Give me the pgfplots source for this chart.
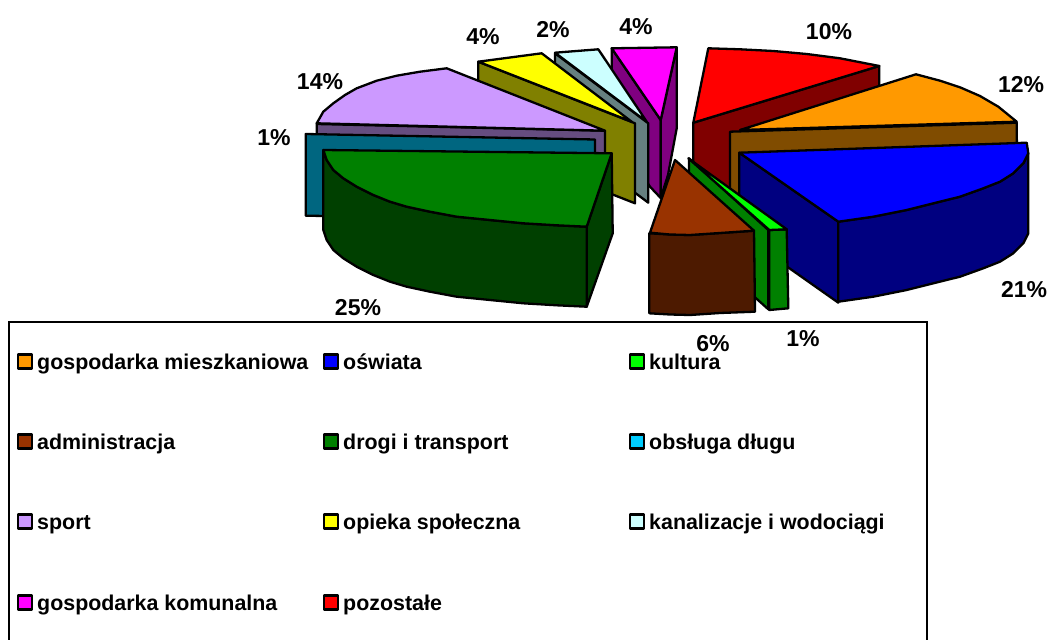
\documentclass[border=0pt]{standalone}
\usepackage{pgfplots}
\pgfplotsset{compat=1.18}
\usepackage{fontspec}
\setmainfont{Liberation Sans}
\newcommand{\poly}[2]{\addplot[draw=black,line width=2.3pt,line join=round,fill=#1] coordinates {#2} -- cycle;}
\definecolor{cOr}{HTML}{FF9900}\definecolor{cOrD}{HTML}{804C00}
\definecolor{cBl}{HTML}{0000FF}\definecolor{cBlD}{HTML}{000080}
\definecolor{cKu}{HTML}{00FF00}\definecolor{cGr}{HTML}{008000}\definecolor{cGrD}{HTML}{004000}
\definecolor{cAd}{HTML}{993300}\definecolor{cAdD}{HTML}{4D1A00}
\definecolor{cTe}{HTML}{00CCFF}\definecolor{cTeD}{HTML}{006680}
\definecolor{cSp}{HTML}{CC99FF}\definecolor{cSpD}{HTML}{664D80}
\definecolor{cYe}{HTML}{FFFF00}\definecolor{cYeD}{HTML}{808000}
\definecolor{cCy}{HTML}{CCFFFF}\definecolor{cCyD}{HTML}{668080}
\definecolor{cMa}{HTML}{FF00FF}\definecolor{cMaD}{HTML}{800080}
\definecolor{cRe}{HTML}{FF0000}\definecolor{cReD}{HTML}{800000}
\begin{document}
\begin{tikzpicture}
\path[use as bounding box] (0,0) rectangle (1056pt,639pt);
\begin{axis}[at={(0,0)},anchor=south west,width=1056pt,height=639pt,scale only axis,hide axis,clip=false,
 xmin=0,xmax=1056,ymin=0,ymax=639,y dir=reverse]
% pozostale
\poly{cReD}{(693.3,122.7)(879.3,66)(879.3,146)(693.3,197)}
\poly{cRe}{(708.3,48.3)(740,49.3)(773.3,51)(806.7,54)(840,58.3)(879.3,66)(693.3,122.7)}
% gospodarka komunalna
\poly{cMaD}{(611.7,48.3)(660.7,120)(660.7,198)(650,186.7)(611.7,128)}
\poly{cMaD}{(676.7,47.3)(660.7,120)(660.7,198)(668,175)(676.7,128.3)}
\poly{cMa}{(611.7,48.3)(676.7,47.3)(660.7,120)}
% kanalizacje
\poly{cCyD}{(555,53.3)(648.3,123.3)(648.3,202.7)(555,133)}
\poly{cCy}{(555,52.7)(598.3,49.3)(646.7,121.7)}
% opieka
\poly{cYeD}{(478.3,61.7)(635,123.3)(635,203.3)(478.3,141.7)}
\poly{cYe}{(478.3,61.7)(541.7,53.3)(631.7,121.7)}
% sport
\poly{cSpD}{(316.7,124)(605,130.7)(605,210)(316.7,204)}
\poly{cSp}{(316.7,123.3)(323.3,111.7)(333.3,103.3)(345,95)(356.7,88.3)(376.7,80.7)(396.7,75.7)(420,71.7)(446.7,68.3)(605,130.7)}
% obsluga dlugu
\poly{cTeD}{(305.7,134)(595,139.5)(595,220)(305.7,215.7)}
% gospodarka mieszkaniowa
\poly{cOrD}{(730,131.7)(1016.7,122.7)(1017.3,200)(730,210)}
\poly{cOr}{(740,130)(916,74.3)(940,80.7)(960,87.3)(980,96)(998.3,106.7)(1016.7,121.7)}
% oswiata
\poly{cBlD}{(739.3,152.7)(838.3,221.7)(838.3,302.7)(739.3,233)}
\poly{cBlD}{(838.3,221.7)(873.3,216.7)(906.7,210)(933.3,203.3)(960,196.7)(983.3,188.3)(1000,181.7)(1013.3,173.3)(1023.3,163.3)(1028.3,153.3)(1028.3,233.3)(1023.3,243.3)(1013.3,253.3)(1000,261.7)(983.3,268.3)(960,276.7)(933.3,283.3)(906.7,290)(873.3,296.7)(838.3,301.7)}
\poly{cBl}{(739.3,152.7)(1026.7,142.7)(1028.3,153.3)(1023.3,163.3)(1013.3,173.3)(1000,181.7)(983.3,188.3)(960,196.7)(933.3,203.3)(906.7,210)(873.3,216.7)(838.3,221.7)}
% kultura
\poly{cGr}{(689,158.3)(768.3,230)(768.3,309.3)(689,238)}
\poly{cGr}{(769.3,230)(786.7,229.3)(788.3,308.3)(769.3,310)}
\poly{cKu}{(688.3,158.3)(786.7,229.3)(769.3,230)}
% administracja
\poly{cAdD}{(649.3,233.3)(670,234.5)(690,235)(720,233)(754,230.7)(755,311.7)(720,313)(690,315)(670,314.5)(649.3,313.3)}
\poly{cAd}{(675,160)(754,230.7)(720,233)(690,235)(670,234.5)(650,232.7)}
% drogi
\poly{cGrD}{(611.7,153.3)(612.7,233.3)(586.7,306.7)(586.7,226.7)}
\poly{cGrD}{(323.3,150)(326.7,160)(333.3,170)(343.3,178.3)(356.7,186.7)(373.3,195)(390,201.7)(406.7,206.7)(430,211.7)(456.7,216.7)(490,220)(523.3,223.3)(556.7,225.3)(586.7,226.7)(586.7,306.7)(556.7,305.3)(523.3,303.3)(490,300)(456.7,296.7)(430,291.7)(406.7,286.7)(390,281.7)(373.3,275)(356.7,266.7)(343.3,258.3)(333.3,250)(326.7,240)(323.3,230)}
\poly{cGr}{(323.3,150)(611.7,153.3)(586.7,226.7)(556.7,225.3)(523.3,223.3)(490,220)(456.7,216.7)(430,211.7)(406.7,206.7)(390,201.7)(373.3,195)(356.7,186.7)(343.3,178.3)(333.3,170)(326.7,160)}
% legend frame
\addplot[draw=black,line width=2.3pt,fill=white] coordinates {(9,321.7)(926.7,321.7)(926.7,645)(9,645)} -- cycle;
% legend swatches
\poly{cOr}{(18,354.5)(32,354.5)(32,368.5)(18,368.5)}
\poly{cBl}{(324,354.5)(338,354.5)(338,368.5)(324,368.5)}
\poly{cKu}{(630,354.5)(644,354.5)(644,368.5)(630,368.5)}
\poly{cAd}{(18,434.5)(32,434.5)(32,448.5)(18,448.5)}
\poly{cGr}{(324,434.5)(338,434.5)(338,448.5)(324,448.5)}
\poly{cTe}{(630,434.5)(644,434.5)(644,448.5)(630,448.5)}
\poly{cSp}{(18,514.5)(32,514.5)(32,528.5)(18,528.5)}
\poly{cYe}{(324,514.5)(338,514.5)(338,528.5)(324,528.5)}
\poly{cCy}{(630,514.5)(644,514.5)(644,528.5)(630,528.5)}
\poly{cMa}{(18,595.5)(32,595.5)(32,609.5)(18,609.5)}
\poly{cRe}{(324,595.5)(338,595.5)(338,609.5)(324,609.5)}
% legend text
\tikzset{lg/.style={anchor=base west,inner sep=0pt,font=\fontsize{21.4}{23}\selectfont\bfseries},pc/.style={anchor=center,inner sep=0pt,font=\fontsize{23}{25}\selectfont\bfseries}}
\node[lg] at (axis cs:37,369) {gospodarka mieszkaniowa};
\node[lg] at (axis cs:343,369) {oświata};
\node[lg] at (axis cs:649,369) {kultura};
\node[lg] at (axis cs:37,449) {administracja};
\node[lg] at (axis cs:343,449) {drogi i transport};
\node[lg] at (axis cs:649,449) {obsługa długu};
\node[lg] at (axis cs:37,529) {sport};
\node[lg] at (axis cs:343,529) {opieka społeczna};
\node[lg] at (axis cs:649,529) {kanalizacje i wodociągi};
\node[lg] at (axis cs:37,610) {gospodarka komunalna};
\node[lg] at (axis cs:343,610) {pozostałe};
% percentages
\node[pc] at (axis cs:320,82) {14\%};
\node[pc] at (axis cs:483,37) {4\%};
\node[pc] at (axis cs:553,30) {2\%};
\node[pc] at (axis cs:636,27) {4\%};
\node[pc] at (axis cs:829,32) {10\%};
\node[pc] at (axis cs:1021,85) {12\%};
\node[pc] at (axis cs:1024,290) {21\%};
\node[pc] at (axis cs:803,339) {1\%};
\node[pc] at (axis cs:713,344) {6\%};
\node[pc] at (axis cs:358,308) {25\%};
\node[pc] at (axis cs:274,138) {1\%};
\end{axis}
\end{tikzpicture}
\end{document}
